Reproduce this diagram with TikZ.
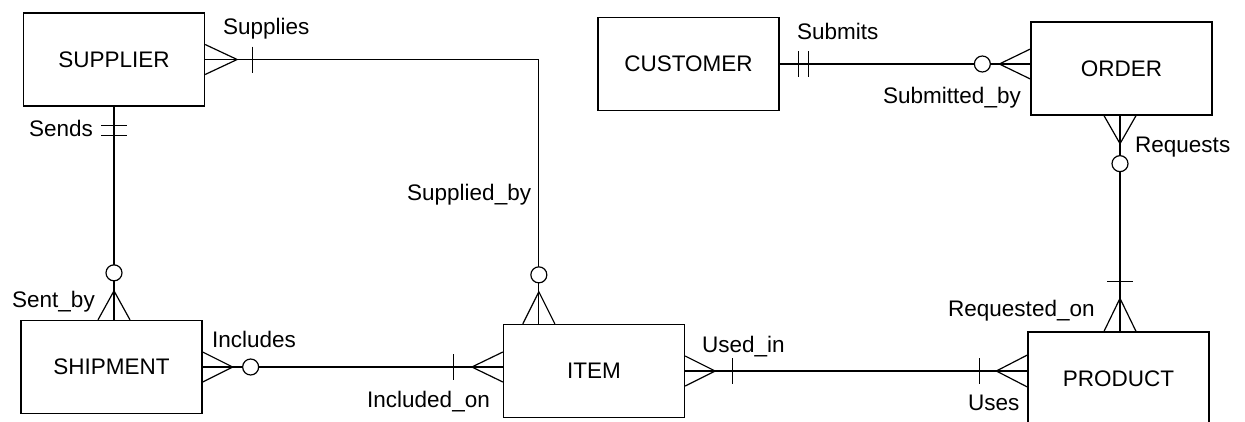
\documentclass[tikz,border=0pt]{standalone}
\usepackage{fontspec}
\setmainfont{Liberation Sans}
\begin{document}
\begin{tikzpicture}[x=1pt,y=1pt,
  entity/.style={draw, line width=1.3pt, rectangle, minimum width=181pt, minimum height=93pt, inner sep=0pt, font=\fontsize{22.5}{27}\selectfont},
  rel/.style={line width=1.2pt},
  opt/.style={line width=1.2pt, fill=white},
  lbl/.style={font=\fontsize{22.5}{27}\selectfont, inner sep=0pt, anchor=base west}]
\useasboundingbox (0,0) rectangle (1245,-421);

% entities
\node[entity] (supplier) at (114,-59.5) {SUPPLIER};
\node[entity] (customer) at (688.5,-64) {CUSTOMER};
\node[entity] (order)    at (1121.5,-68.5) {ORDER};
\node[entity] (shipment) at (111.5,-367) {SHIPMENT};
\node[entity] (item)     at (594,-371) {ITEM};
\node[entity] (product)  at (1118.5,-378.5) {PRODUCT};

% SUPPLIER -- ITEM
\coordinate (s1) at (supplier.east);
\coordinate (i1) at ([xshift=36pt]item.north west);
\draw[rel] (s1) -| (i1);
\draw[rel] ([yshift=15pt]s1) -- ([xshift=32pt]s1) -- ([yshift=-15pt]s1);
\draw[rel] ([shift={(47pt,13pt)}]s1) -- ([shift={(47pt,-13pt)}]s1);
\draw[rel] ([xshift=-16pt]i1) -- ([yshift=32pt]i1) -- ([xshift=16pt]i1);
\draw[opt] ([yshift=49pt]i1) circle (8pt);

% SUPPLIER -- SHIPMENT
\coordinate (s2) at (supplier.south);
\coordinate (h2) at (supplier.south |- shipment.north);
\draw[rel] (s2) -- (h2);
\draw[rel] ([shift={(-13pt,-19pt)}]s2) -- ([shift={(13pt,-19pt)}]s2);
\draw[rel] ([shift={(-13pt,-29pt)}]s2) -- ([shift={(13pt,-29pt)}]s2);
\draw[rel] ([xshift=-16pt]h2) -- ([yshift=29pt]h2) -- ([xshift=16pt]h2);
\draw[opt] ([yshift=47pt]h2) circle (8pt);

% SHIPMENT -- ITEM
\coordinate (h3) at (shipment.east);
\coordinate (i3) at (shipment.east -| item.west);
\draw[rel] (h3) -- (i3);
\draw[rel] ([yshift=15pt]h3) -- ([xshift=30pt]h3) -- ([yshift=-15pt]h3);
\draw[opt] ([xshift=48pt]h3) circle (8pt);
\draw[rel] ([yshift=15pt]i3) -- ([xshift=-31pt]i3) -- ([yshift=-15pt]i3);
\draw[rel] ([shift={(-49pt,13pt)}]i3) -- ([shift={(-49pt,-13pt)}]i3);

% ITEM -- PRODUCT
\coordinate (i4) at (item.east);
\coordinate (p4) at (item.east -| product.west);
\draw[rel] (i4) -- (p4);
\draw[rel] ([yshift=15pt]i4) -- ([xshift=30pt]i4) -- ([yshift=-15pt]i4);
\draw[rel] ([shift={(47pt,13pt)}]i4) -- ([shift={(47pt,-13pt)}]i4);
\draw[rel] ([yshift=16pt]p4) -- ([xshift=-31pt]p4) -- ([yshift=-16pt]p4);
\draw[rel] ([shift={(-48pt,13pt)}]p4) -- ([shift={(-48pt,-13pt)}]p4);

% CUSTOMER -- ORDER
\coordinate (c5) at (customer.east);
\coordinate (o5) at (customer.east -| order.west);
\draw[rel] (c5) -- (o5);
\draw[rel] ([shift={(19pt,13pt)}]c5) -- ([shift={(19pt,-13pt)}]c5);
\draw[rel] ([shift={(29pt,13pt)}]c5) -- ([shift={(29pt,-13pt)}]c5);
\draw[rel] ([yshift=15pt]o5) -- ([xshift=-31pt]o5) -- ([yshift=-15pt]o5);
\draw[opt] ([xshift=-48pt]o5) circle (8pt);

% ORDER -- PRODUCT
\coordinate (o6) at ([xshift=-1.5pt]order.south);
\coordinate (p6) at ([xshift=-1.5pt]order.south |- product.north);
\draw[rel] (o6) -- (p6);
\draw[rel] ([xshift=-16pt]o6) -- ([yshift=-28pt]o6) -- ([xshift=16pt]o6);
\draw[opt] ([yshift=-48pt]o6) circle (8pt);
\draw[rel] ([xshift=-16pt]p6) -- ([yshift=33pt]p6) -- ([xshift=16pt]p6);
\draw[rel] ([shift={(-13pt,50pt)}]p6) -- ([shift={(13pt,50pt)}]p6);

% labels
\node[lbl] (lsupplies) at (223,-34) {Supplies};
\node[lbl] (lsends) at (29,-136) {Sends};
\node[lbl] (lsentby) at (12,-307) {Sent\_by};
\node[lbl] (lincludes) at (212,-347) {Includes};
\node[lbl] (lincludedon) at (367,-407) {Included\_on};
\node[lbl] (lsuppliedby) at (407,-200) {Supplied\_by};
\node[lbl] (lusedin) at (702,-352) {Used\_in};
\node[lbl] (luses) at (968,-410) {Uses};
\node[lbl] (lrequestedon) at (948,-316) {Requested\_on};
\node[lbl] (lsubmits) at (797,-39) {Submits};
\node[lbl] (lsubmittedby) at (883,-103) {Submitted\_by};
\node[lbl] (lrequests) at (1135,-152) {Requests};
\end{tikzpicture}
\end{document}
